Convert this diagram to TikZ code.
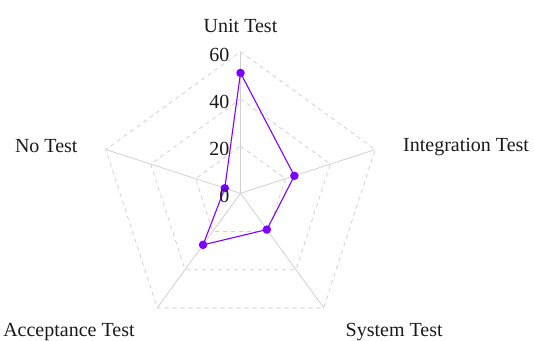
\documentclass[tikz,border=0pt]{standalone}
\usepackage{fontspec}
\setmainfont{Liberation Serif}
\definecolor{gridc}{HTML}{D0D0D0}
\definecolor{datac}{HTML}{7F00FF}
\definecolor{txt}{HTML}{1A1A1A}
\begin{document}
\begin{tikzpicture}[x=1pt,y=-1pt,
  axisline/.style={draw=gridc, line width=0.8pt},
  ring/.style={draw=gridc, dash pattern=on 4pt off 4pt, line width=0.8pt},
  series/.style={draw=datac, line width=1.1pt, line join=round},
  dot/.style={circle, fill=datac, inner sep=0pt, minimum size=8.5pt},
  lab/.style={font=\fontsize{20}{24}\selectfont, text=txt, inner sep=0pt},
]
\useasboundingbox (0,0) rectangle (534,340);
\coordinate (C) at (240.5,193.3);
\foreach \n/\a in {u/90, i/18, s/-54, a/-126, n/162}{
  \coordinate (\n60) at ([shift={(\a:141.6pt)}]C);
  \coordinate (\n40) at ([shift={(\a:94.4pt)}]C);
  \coordinate (\n20) at ([shift={(\a:47.2pt)}]C);
}
% rings
\draw[ring] (u20) -- (i20) -- (s20) -- (a20) -- (n20) -- cycle;
\draw[ring] (u40) -- (i40) -- (s40) -- (a40) -- (n40) -- cycle;
\draw[ring] (u60) -- (i60) -- (s60) -- (a60) -- (n60) -- cycle;
% axes
\draw[axisline] (C) -- (u60);
\draw[axisline] (C) -- (i60);
\draw[axisline] (C) -- (s60);
\draw[axisline] (C) -- (a60);
\draw[axisline] (C) -- (n60);
% data
\coordinate (pu) at ([shift={(90:120.36pt)}]C);
\coordinate (pi) at ([shift={(18:56.64pt)}]C);
\coordinate (ps) at ([shift={(-54:44.84pt)}]C);
\coordinate (pa) at ([shift={(-126:63.72pt)}]C);
\coordinate (pn) at ([shift={(162:16.52pt)}]C);
\draw[series] (pu) -- (pi) -- (ps) -- (pa) -- (pn) -- cycle;
\node[dot] (du) at (pu) {};
\node[dot] (di) at (pi) {};
\node[dot] (ds) at (ps) {};
\node[dot] (da) at (pa) {};
\node[dot] (dn) at (pn) {};
% tick labels
\node[lab, anchor=base east] (t60) at (229.5,61.7) {60};
\node[lab, anchor=base east] (t40) at (229.5,108.6) {40};
\node[lab, anchor=base east] (t20) at (229.5,155.8) {20};
\node[lab, anchor=base east] (t0) at (229.5,202.7) {0};
% axis labels
\node[lab, anchor=base] (lu) at (240.5,32.3) {Unit Test};
\node[lab, anchor=base west] (li) at (403,151.7) {Integration Test};
\node[lab, anchor=base east] (ln) at (77.7,152.7) {No Test};
\node[lab, anchor=base] (la) at (68.9,336.7) {Acceptance Test};
\node[lab, anchor=base] (ls) at (394.2,336.7) {System Test};
\end{tikzpicture}
\end{document}
